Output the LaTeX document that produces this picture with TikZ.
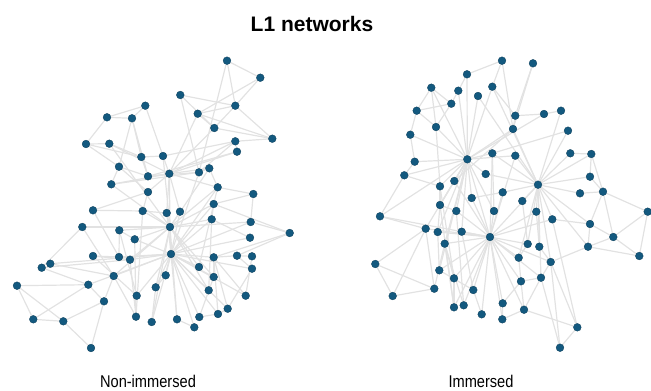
\documentclass[tikz,border=0pt]{standalone}
\usepackage{fontspec}
\setmainfont{Liberation Sans}
\usetikzlibrary{backgrounds}
\definecolor{vertex}{HTML}{13597F}
\definecolor{linkgray}{HTML}{E2E2E2}

\begin{document}
\begin{tikzpicture}[x=1pt, y=-1pt,
    vert/.style={circle, fill=vertex, draw=vertex!70!black, line width=0.3pt,
                 inner sep=0pt, minimum size=7.8pt},
    link/.style={draw=linkgray, line width=1.2pt},
    lab/.style={font=\fontsize{17}{17}\selectfont, anchor=base, inner sep=1pt}
  ]
  \useasboundingbox (0,0) rectangle (651,391);

  \node[font=\fontsize{21}{21}\selectfont\bfseries, anchor=base] (title) at (312,31.5) {L1 networks};

  % non-immersed network
  \foreach \n/\x/\y in {1/227/60.7, 2/260.3/77.7, 3/180.3/95, 4/235.3/105.7, 5/145.3/105.7,
      6/197.7/113.7, 7/107/117.3, 8/132/118.3, 9/214.3/128, 10/272.3/138.7, 11/235.3/141.3,
      12/86/144, 13/109.3/143.7, 14/237/151.7, 15/141.3/157, 16/163/156, 17/119/166.7,
      18/209.3/168.3, 19/199/172.3, 20/169.3/173.7, 21/148/176.3, 22/111.3/184.3,
      23/217.7/187.3, 24/148/192, 25/253.3/194, 26/213.7/204, 27/93/210.3, 28/142.7/211,
      29/166.7/213, 30/180/211.7, 31/211.7/219.3, 32/250.7/222, 33/82.3/227, 34/170/227,
      35/119.3/230.3, 36/289.7/233, 37/134.7/239.3, 38/250/237.7, 39/93/256, 40/119/257,
      41/130/259.7, 42/171/254, 43/213.7/257.3, 44/237/255.7, 45/252/256.3, 46/50.3/263.7,
      47/41.7/267.7, 48/199/267, 49/252/268.7, 50/113.7/276, 51/165.7/275.3, 52/213.7/277,
      53/17/285.7, 54/88.3/284.7, 55/155.7/287.3, 56/208.7/290.3, 57/245.7/295.7,
      58/136.7/295.7, 59/104/301.3, 60/227.7/308.7, 61/218/314, 62/199.3/317, 63/136/316.7,
      64/177/319.3, 65/33.3/319.3, 66/63.3/321.3, 67/151.7/322, 68/194.3/327.3, 69/91/348}
    \node[vert] (l\n) at (\x,\y) {};

  % immersed network
  \foreach \n/\x/\y in {1/502/60.7, 2/533/63.3, 3/467/74.3, 4/431.3/87.7, 5/492.3/86.7,
      6/458.3/90.7, 7/478/96, 8/451.3/103.7, 9/416.7/110.7, 10/515.3/115.7, 11/544/114,
      12/561/110.7, 13/436/127, 14/513/129, 15/568/130.7, 16/410.3/134.7, 17/492.3/153.3,
      18/515.3/155.7, 19/570.3/153.3, 20/591.3/154, 21/467.3/159.3, 22/414.7/161.7,
      23/404.3/175.3, 24/485.7/174, 25/590/176.7, 26/454.3/181, 27/440/186.3, 28/538/184.7,
      29/502.7/192.3, 30/471.7/198, 31/580/193.3, 32/603/191.7, 33/522.3/201, 34/440/205,
      35/456.3/211, 36/494/211, 37/536.3/211.7, 38/647.7/211.7, 39/380/216.3,
      40/552.3/219.3, 41/590/224, 42/425.7/228.7, 43/437.7/232, 44/461.7/231.7, 45/490/237,
      46/613.3/237, 47/444.7/243.7, 48/527.7/244, 49/539.3/246.7, 50/588/246.7,
      51/639.3/256, 52/518.7/257.7, 53/550.7/262, 54/375.3/264, 55/439.3/270.3,
      56/454/278.3, 57/541/277.7, 58/521/281.3, 59/434.3/288.7, 60/473.3/290,
      61/392.7/296, 62/502.7/303.3, 63/463.7/305.3, 64/454/307.3, 65/524/309.7,
      66/481.7/314.3, 67/502.3/319.3, 68/577.3/327.3, 69/560/347.7}
    \node[vert] (r\n) at (\x,\y) {};

  \begin{scope}[on background layer]
    \foreach \a/\b in {1/2, 1/4, 1/19, 2/4, 2/6, 3/4, 3/19, 3/9, 4/9, 4/6, 6/9, 6/10, 9/10,
        4/10, 6/20, 9/20, 11/16, 11/20, 14/20, 14/21, 18/19, 18/23, 16/20, 5/16, 5/8, 5/7,
        7/8, 7/12, 12/13, 12/17, 8/17, 8/15, 8/21, 13/15, 13/20, 15/16, 15/21, 17/22, 17/21,
        17/24, 20/22, 19/22, 20/21, 20/24, 19/21, 20/34, 20/29, 19/42, 18/34, 23/26, 23/34,
        25/26, 25/32, 26/31, 26/42, 26/34, 26/36, 36/43, 32/36, 27/28, 24/27, 27/40, 28/29,
        28/34, 24/28, 28/63, 29/34, 30/34, 20/30, 33/34, 33/50, 33/47, 35/37, 35/40, 34/35,
        34/37, 37/42, 39/40, 39/41, 39/58, 40/42, 41/42, 34/41, 42/46, 41/47, 46/50, 47/54,
        42/50, 34/50, 50/59, 50/63, 53/54, 53/65, 53/66, 54/65, 54/59, 42/54, 59/66, 59/69,
        65/66, 66/69, 42/51, 51/55, 42/55, 55/67, 42/58, 35/58, 37/63, 41/63, 42/67, 42/64,
        34/64, 42/62, 42/68, 64/68, 61/62, 60/61, 43/60, 42/56, 31/56, 42/48, 26/48, 42/52,
        43/52, 42/43, 43/44, 44/45, 36/44, 38/42, 31/38, 44/49, 42/49, 43/57, 45/57, 42/57,
        43/61, 52/62, 49/60, 31/42, 31/34, 34/42, 32/42, 32/34, 23/25, 20/23, 11/14, 10/11,
        22/34, 13/34, 16/34, 34/48, 34/52, 34/55, 34/67, 34/56, 23/42, 29/42, 30/42, 42/60,
        42/61, 12/15, 18/20, 11/19}
      \draw[link] (l\a) -- (l\b);

    \foreach \a/\b in {1/3, 1/5, 1/14, 2/14, 2/10, 3/6, 3/21, 4/8, 4/13, 4/21, 4/9, 5/10,
        5/21, 5/28, 6/21, 6/8, 7/21, 7/28, 8/9, 8/13, 9/13, 9/16, 10/11, 10/14, 11/12, 11/21,
        12/28, 13/21, 13/27, 14/21, 14/28, 14/26, 15/28, 15/17, 16/22, 16/21, 17/21, 17/28,
        17/45, 17/36, 18/28, 18/21, 18/45, 19/20, 19/28, 20/25, 20/28, 20/32, 22/21, 22/23,
        23/21, 23/39, 23/27, 24/21, 24/28, 25/28, 25/32, 26/21, 26/34, 26/45, 27/21, 27/34,
        29/28, 29/30, 29/45, 30/21, 30/45, 31/28, 31/32, 32/38, 32/41, 32/46, 33/28, 33/48,
        34/35, 34/43, 34/21, 35/21, 35/45, 36/45, 36/21, 37/28, 37/45, 37/49, 38/51, 38/46,
        39/21, 39/42, 40/28, 40/45, 40/41, 41/50, 41/46, 41/28, 42/21, 42/54, 42/61, 42/59,
        43/45, 43/55, 43/21, 44/45, 44/21, 45/47, 45/48, 45/52, 45/53, 45/55, 45/56, 45/57,
        45/58, 45/60, 45/62, 45/63, 45/64, 45/65, 45/66, 45/67, 45/42, 45/39, 45/28, 45/21,
        46/50, 46/51, 47/56, 47/64, 47/21, 48/28, 48/52, 49/28, 49/53, 50/53, 50/51, 50/28,
        52/58, 52/28, 53/57, 53/68, 53/69, 53/28, 54/61, 54/59, 55/60, 55/21, 56/64, 56/27,
        57/58, 57/69, 57/28, 58/65, 58/62, 59/61, 59/47, 60/66, 60/44, 62/67, 63/47, 63/35,
        64/34, 65/67, 65/68, 65/57, 68/69, 68/40}
      \draw[link] (r\a) -- (r\b);
  \end{scope}

  \node[lab] (nonimm) at (148,387.5) {\scalebox{0.86}[1]{Non-immersed}};
  \node[lab] (imm) at (481,387.5) {\scalebox{0.86}[1]{Immersed}};
\end{tikzpicture}
\end{document}
